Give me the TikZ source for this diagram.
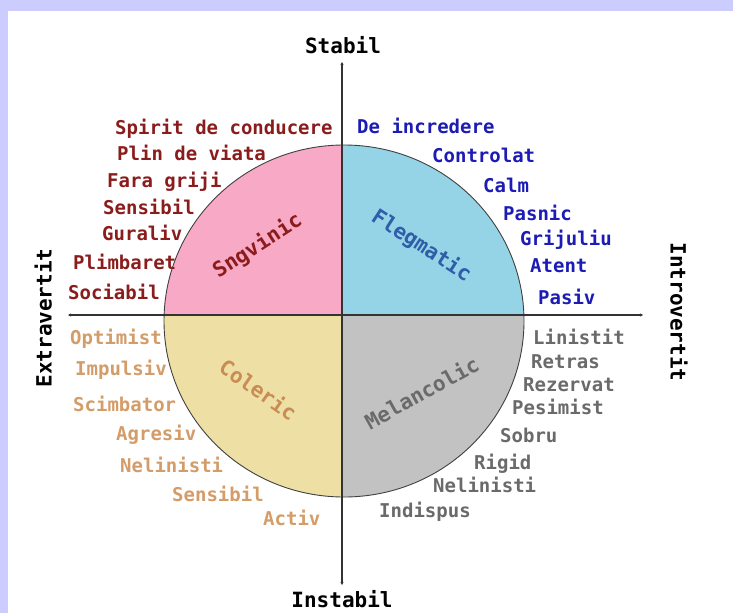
\documentclass[tikz,border=0pt]{standalone}
\usepackage{fontspec}
\setmonofont{DejaVu Sans Mono}
\usetikzlibrary{arrows.meta}

\definecolor{frame}{HTML}{CCCCFF}
\definecolor{sngfill}{HTML}{F8A9C6}
\definecolor{flgfill}{HTML}{95D4E6}
\definecolor{colfill}{HTML}{EEE0A4}
\definecolor{melfill}{HTML}{C2C2C2}
\definecolor{sngtext}{HTML}{8B1C1C}
\definecolor{flgtext}{HTML}{1C1CB4}
\definecolor{flgname}{HTML}{2F5DA8}
\definecolor{coltext}{HTML}{D39C68}
\definecolor{colname}{HTML}{C98C55}
\definecolor{meltext}{HTML}{6A6A6A}

\tikzset{
  word/.style={anchor=west, inner sep=0pt, text height=14pt, text depth=0pt,
    font=\ttfamily\bfseries\fontsize{19}{22}\selectfont},
  sng/.style={word, text=sngtext},
  flg/.style={word, text=flgtext},
  col/.style={word, text=coltext},
  mel/.style={word, text=meltext},
  kind/.style={inner sep=0pt, text height=15pt, text depth=0pt,
    font=\ttfamily\bfseries\fontsize{21}{24}\selectfont},
  axis/.style={inner sep=0pt, text height=15pt, text depth=0pt,
    font=\ttfamily\bfseries\fontsize{21}{24}\selectfont},
  axisline/.style={line width=1.4pt, draw=black!80, {Stealth[length=3pt,width=3pt]}-{Stealth[length=3pt,width=3pt]}},
}

\begin{document}
\begin{tikzpicture}[x=1pt, y=-1pt]
\useasboundingbox (0,0) rectangle (733,613);
\fill[frame] (0,0) rectangle (733,613);
\fill[white] (8,11) rectangle (733,613);

\begin{scope}
\clip (0,0) rectangle (342,315);
\fill[sngfill] (344,321) ellipse [x radius=180, y radius=176];
\end{scope}
\begin{scope}
\clip (342,0) rectangle (733,315);
\fill[flgfill] (344,321) ellipse [x radius=180, y radius=176];
\end{scope}
\begin{scope}
\clip (0,315) rectangle (342,613);
\fill[colfill] (344,321) ellipse [x radius=180, y radius=176];
\end{scope}
\begin{scope}
\clip (342,315) rectangle (733,613);
\fill[melfill] (344,321) ellipse [x radius=180, y radius=176];
\end{scope}
\draw[black!75, line width=0.9pt] (344,321) ellipse [x radius=180, y radius=176];

\coordinate (up) at (342,62);
\coordinate (down) at (342,585);
\coordinate (left) at (68,315);
\coordinate (right) at (643,315);
\draw[axisline] (up) -- (down);
\draw[axisline] (left) -- (right);

\node (stabil) at (343,46) [axis] {Stabil};
\node (instabil) at (342,600) [axis] {Instabil};
\node (extra) at (44,318) [axis, rotate=90] {Extravertit};
\node (intro) at (678,312) [axis, rotate=-90] {Introvertit};

\node (sngvinic) at (257,245) [kind, text=sngtext, rotate=33] {Sngvinic};
\node (flegmatic) at (422,245) [kind, text=flgname, rotate=-33] {Flegmatic};
\node (coleric) at (258,390) [kind, text=colname, rotate=-35] {Coleric};
\node (melancolic) at (422,393) [kind, text=meltext, rotate=29] {Melancolic};

\node (spirit) at (115,127) [sng] {Spirit de conducere};
\node (plin) at (117,153) [sng] {Plin de viata};
\node (fara) at (107,180) [sng] {Fara griji};
\node (sensibilA) at (103,207) [sng] {Sensibil};
\node (guraliv) at (102,233) [sng] {Guraliv};
\node (plimbaret) at (73,262) [sng] {Plimbaret};
\node (sociabil) at (68,292) [sng] {Sociabil};

\node (incredere) at (357,126) [flg] {De incredere};
\node (controlat) at (432,155) [flg] {Controlat};
\node (calm) at (483,185) [flg] {Calm};
\node (pasnic) at (503,213) [flg] {Pasnic};
\node (grijuliu) at (520,238) [flg] {Grijuliu};
\node (atent) at (530,265) [flg] {Atent};
\node (pasiv) at (538,297) [flg] {Pasiv};

\node (optimist) at (70,337) [col] {Optimist};
\node (impulsiv) at (75,368) [col] {Impulsiv};
\node (scimbator) at (73,404) [col] {Scimbator};
\node (agresiv) at (116,433) [col] {Agresiv};
\node (nelinistiA) at (120,465) [col] {Nelinisti};
\node (sensibilB) at (172,494) [col] {Sensibil};
\node (activ) at (263,518) [col] {Activ};

\node (linistit) at (533,337) [mel] {Linistit};
\node (retras) at (531,361) [mel] {Retras};
\node (rezervat) at (523,384) [mel] {Rezervat};
\node (pesimist) at (512,407) [mel] {Pesimist};
\node (sobru) at (500,435) [mel] {Sobru};
\node (rigid) at (474,462) [mel] {Rigid};
\node (nelinistiB) at (433,485) [mel] {Nelinisti};
\node (indispus) at (379,510) [mel] {Indispus};
\end{tikzpicture}
\end{document}
